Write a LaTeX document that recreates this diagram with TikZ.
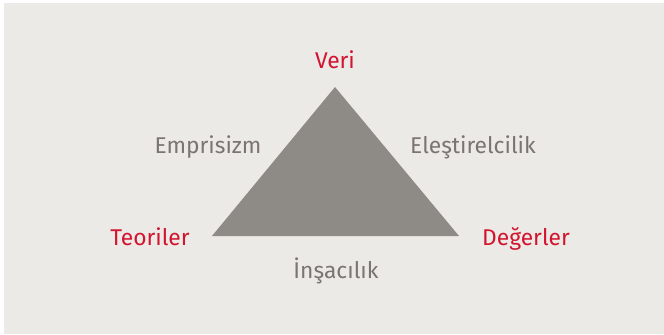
\documentclass[tikz,border=0pt]{standalone}
\usepackage{fontspec}
\setmainfont{Fira Sans}
\definecolor{bgc}{HTML}{ECEAE6}
\definecolor{tri}{HTML}{8E8A85}
\definecolor{redt}{HTML}{D2142E}
\definecolor{greyt}{HTML}{7B7571}
\tikzset{
  lbl/.style={inner sep=0pt, font=\fontsize{22.8bp}{27bp}\selectfont},
  corner/.style={lbl, text=redt},
  side/.style={lbl, text=greyt}
}
\begin{document}
\begin{tikzpicture}[x=1bp,y=-1bp]
\useasboundingbox (0,0) rectangle (664,334);
\fill[white] (0,0) rectangle (664,334);
\fill[bgc] (4,3) rectangle (664,334);
\coordinate (top) at (335,87);
\coordinate (left) at (212,236);
\coordinate (right) at (459,236);
\fill[tri] (top) -- (left) -- (right) -- cycle;
\node[corner, anchor=base] (veri) at (335,68) {Veri};
\node[corner, anchor=base] (teoriler) at (150,245) {Teoriler};
\node[corner, anchor=base] (degerler) at (526,245) {Değerler};
\node[side, anchor=base] (emp) at (208,153) {Emprisizm};
\node[side, anchor=base] (ele) at (473,153) {Eleştirelcilik};
\node[side, anchor=base] (insa) at (336,278) {İnşacılık};
\end{tikzpicture}
\end{document}
